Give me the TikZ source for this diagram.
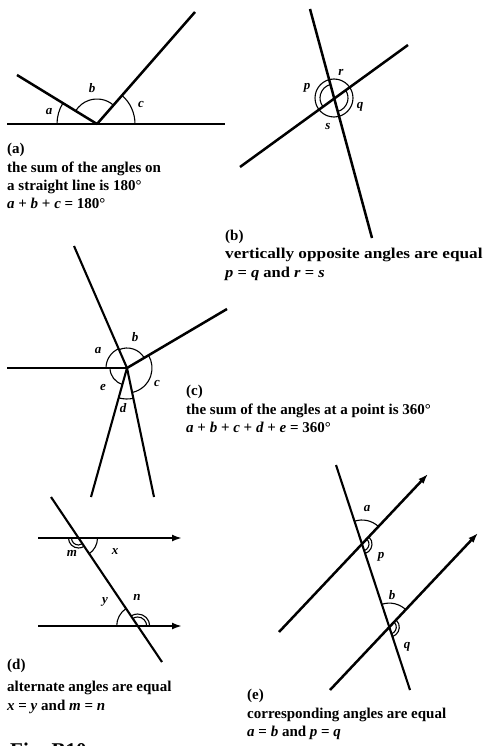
\documentclass[tikz,border=0pt]{standalone}
\usepackage{graphicx}
\usepackage{fontspec}
\setmainfont{Liberation Serif}
\usetikzlibrary{arrows.meta,calc}
\newcommand\capf{\fontsize{15}{18}\selectfont\bfseries}
\newcommand\lblf{\fontsize{13}{13}\selectfont\bfseries\itshape}
\newcommand\angarc[5][]{\draw[arcline,#1] (#2) ++(#3:#5) arc[start angle=#3,end angle=#4,radius=#5];}
\begin{document}
\begin{tikzpicture}[x=1pt,y=1pt,
  ln/.style={line width=2.5pt},
  tr/.style={line width=2.1pt},
  arcline/.style={line width=1.1pt},
  lbl/.style={font=\lblf, inner sep=0pt},
  captxt/.style={font=\capf, anchor=base west, inner sep=0pt},
  arr/.style={line width=2.5pt, -{Latex[length=10pt,width=7pt]}}]
\useasboundingbox (0,0) rectangle (486,-746);

% ---------- (a) ----------
\coordinate (aV) at (97,-124);
\coordinate (aL) at (7,-124);
\coordinate (aR) at (225,-124);
\coordinate (aA) at (17,-75);
\coordinate (aB) at (195,-12);
\draw[ln] (aL) -- (aR);
\draw[ln] (aA) -- (aV);
\draw[ln] (aV) -- (aB);
\angarc{aV}{148.5}{180}{40}
\angarc{aV}{48.8}{148.5}{25}
\angarc{aV}{0}{48.8}{38}
\node[lbl] (aa) at (49,-112) {a};
\node[lbl] (ab) at (92,-88) {b};
\node[lbl] (ac) at (141,-105) {c};
\node[captxt] (at0) at (7,-154) {(a)};
\node[captxt] (at1) at (7,-172) {the sum of the angles on};
\node[captxt] (at2) at (7,-190) {a straight line is 180°};
\node[captxt] (at3) at (7,-208) {\textit{a} + \textit{b} + \textit{c} = 180°};

% ---------- (b) ----------
\coordinate (bX) at (334,-98);
\coordinate (bT1) at (310,-9);
\coordinate (bT2) at (372,-238);
\coordinate (bU1) at (408,-45);
\coordinate (bU2) at (240,-167);
\draw[ln] (bT1) -- (bT2);
\draw[ln] (bU2) -- (bU1);
\draw[arcline] (bX) circle[radius=19];
\angarc{bX}{105.1}{215.8}{14}
\angarc{bX}{285.1}{395.8}{14}
\node[lbl] (bp) at (307,-88) {p};
\node[lbl] (br) at (341,-72) {r};
\node[lbl] (bq) at (360,-107) {q};
\node[lbl] (bs) at (328,-127) {s};
\node[captxt] (bt0) at (225,-240) {(b)};
\node[captxt] (bt1) at (225,-258) {\scalebox{1.15}[1]{vertically opposite angles are equal}};
\node[captxt] (bt2) at (225,-277) {\scalebox{1.1}[1]{\textit{p} = \textit{q} and \textit{r} = \textit{s}}};

% ---------- (c) ----------
\coordinate (cV) at (127,-368);
\coordinate (cL) at (7,-368);
\coordinate (cUL) at (74,-246);
\coordinate (cUR) at (227,-309);
\coordinate (cLL) at (91,-497);
\coordinate (cLR) at (154,-497);
\draw[ln] (cL) -- (cV);
\draw[tr] (cUL) -- (cV);
\draw[ln] (cV) -- (cUR);
\draw[tr] (cV) -- (cLL);
\draw[tr] (cV) -- (cLR);
\angarc{cV}{113.5}{180}{21}
\angarc{cV}{30.5}{113.5}{20}
\angarc{cV}{-78.2}{30.5}{25}
\angarc{cV}{254.4}{281.8}{31}
\angarc{cV}{180}{254.4}{17}
\node[lbl] (ca) at (98,-351) {a};
\node[lbl] (cb) at (135,-337) {b};
\node[lbl] (cc) at (157,-383) {c};
\node[lbl] (cd) at (123,-408) {d};
\node[lbl] (ce) at (103,-387) {e};
\node[captxt] (ct0) at (186,-395) {(c)};
\node[captxt] (ct1) at (186,-414) {the sum of the angles at a point is 360°};
\node[captxt] (ct2) at (186,-432) {\textit{a} + \textit{b} + \textit{c} + \textit{d} + \textit{e} = 360°};

% ---------- (d) ----------
\coordinate (dU0) at (38,-538);
\coordinate (dU1) at (182,-538);
\coordinate (dL0) at (38,-626);
\coordinate (dL1) at (182,-626);
\coordinate (dT0) at (51,-497);
\coordinate (dT1) at (162,-662);
\coordinate (dI1) at (78.5,-538);
\coordinate (dI2) at (137.7,-626);
\draw[arr] (dU0) -- (dU1);
\draw[arr] (dL0) -- (dL1);
\draw[tr] (dT0) -- (dT1);
\angarc{dI1}{180}{303.9}{10}
\angarc{dI1}{180}{303.9}{7}
\angarc{dI1}{303.9}{360}{19}
\angarc{dI2}{123.9}{180}{21}
\angarc{dI2}{0}{123.9}{12}
\angarc{dI2}{0}{123.9}{9}
\node[lbl] (dm) at (72,-553) {m};
\node[lbl] (dx) at (115,-552) {x};
\node[lbl] (dy) at (105,-602) {y};
\node[lbl] (dn) at (137,-597) {n};
\node[captxt] (dt0) at (7,-669) {(d)};
\node[captxt] (dt1) at (7,-691) {alternate angles are equal};
\node[captxt] (dt2) at (7,-710) {\textit{x} = \textit{y} and \textit{m} = \textit{n}};
\node[font=\fontsize{21}{21}\selectfont\bfseries, anchor=base west, inner sep=0pt] (fig) at (10,-757) {Fig. B10};

% ---------- (e) ----------
\coordinate (eT0) at (336,-465);
\coordinate (eT1) at (410,-690);
\coordinate (eP0) at (279,-632);
\coordinate (eP1) at (428,-474);
\coordinate (eQ0) at (330,-690);
\coordinate (eQ1) at (478,-533);
\coordinate (eI1) at (362,-544);
\coordinate (eI2) at (389.3,-627.1);
\draw[tr] (eT0) -- (eT1);
\draw[arr] (eP0) -- (eP1);
\draw[arr] (eQ0) -- (eQ1);
\angarc{eI1}{46.7}{108.2}{24}
\angarc{eI1}{288.2}{406.7}{10}
\angarc{eI1}{288.2}{406.7}{7}
\angarc{eI2}{46.7}{108.2}{24}
\angarc{eI2}{288.2}{406.7}{10}
\angarc{eI2}{288.2}{406.7}{7}
\node[lbl] (ea) at (367,-509) {a};
\node[lbl] (ep) at (381,-557) {p};
\node[lbl] (eb) at (392,-595) {b};
\node[lbl] (eq) at (407,-647) {q};
\node[captxt] (et0) at (247,-699) {(e)};
\node[captxt] (et1) at (247,-718) {corresponding angles are equal};
\node[captxt] (et2) at (247,-736) {\textit{a} = \textit{b} and \textit{p} = \textit{q}};
\end{tikzpicture}
\end{document}
